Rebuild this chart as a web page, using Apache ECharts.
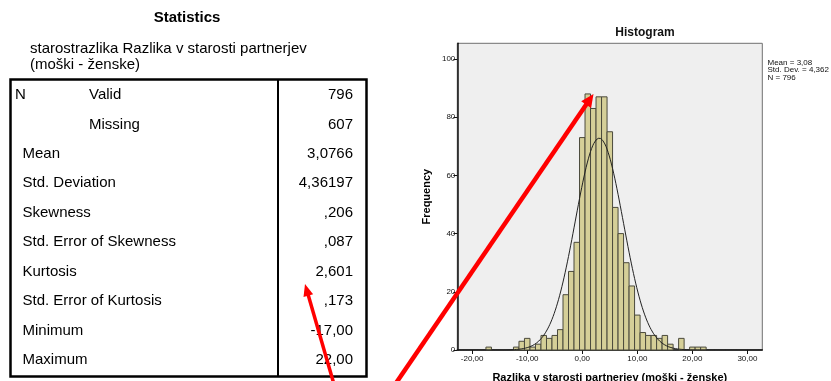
<!DOCTYPE html>
<html>
<head>
<meta charset="utf-8">
<script src="https://cdn.jsdelivr.net/npm/echarts@6/dist/echarts.min.js"></script>
<style>
  html, body { margin: 0; padding: 0; background: #fff; }
  #chart { width: 831px; height: 381px; }
</style>
</head>
<body>
<div id="chart"></div>
<script>
// ---- Descriptive statistics table ----
const tableTitle = 'Statistics';
const variableLabel = ['starostrazlika Razlika v starosti partnerjev', '(moški - ženske)'];
const statGroups = ['N', '', '', '', '', '', '', '', '', ''];
const statLabels = ['Valid', 'Missing', 'Mean', 'Std. Deviation', 'Skewness',
  'Std. Error of Skewness', 'Kurtosis', 'Std. Error of Kurtosis', 'Minimum', 'Maximum'];
const statValues = ['796', '607', '3,0766', '4,36197', ',206', ',087', '2,601', ',173', '-17,00', '22,00'];

// ---- Histogram: one-year bins centred on each integer age difference ----
const binCenters = [-17, -16, -15, -14, -13, -12, -11, -10, -9, -8, -7, -6, -5, -4, -3, -2, -1,
  0, 1, 2, 3, 4, 5, 6, 7, 8, 9, 10, 11, 12, 13, 14, 15, 16, 17, 18, 19, 20, 21, 22];
const binCounts = [1, 0, 0, 0, 0, 1, 3, 4, 1, 2, 5, 4, 5, 7, 19, 27, 37,
  73, 88, 83, 87, 87, 75, 49, 40, 30, 22, 12, 6, 5, 5, 4, 5, 2, 0, 4, 0, 1, 1, 1];
const xTicks = [-20, -10, 0, 10, 20, 30];
const yTicks = [0, 20, 40, 60, 80, 100];

// Parameters of the fitted normal curve, as printed beside the plot
const fitMean = [3.0766];
const fitSd = [4.36197];
const fitN = [796];
const legendLines = ['Mean = 3,08', 'Std. Dev. = 4,362', 'N = 796'];

const FONT = '"Liberation Sans", Arial, sans-serif';
const X_MIN = -22.7, X_MAX = 32.7, Y_MAX = 105.4;

// normal density scaled to counts per one-unit bin
function normalCurve() {
  const pts = [];
  const m = fitMean[0], s = fitSd[0], n = fitN[0];
  for (let x = X_MIN; x <= X_MAX + 1e-9; x += 0.2) {
    const z = (x - m) / s;
    pts.push([x, n / (s * Math.sqrt(2 * Math.PI)) * Math.exp(-0.5 * z * z)]);
  }
  return pts;
}

const fmtX = v => v.toFixed(2).replace('.', ',');

// ---- table drawn with graphic elements ----
const graphics = [];
graphics.push({
  type: 'text', x: 187, y: 18, z: 50,
  style: { text: tableTitle, font: 'bold 15px ' + FONT, fill: '#000', align: 'center', verticalAlign: 'middle' }
});
variableLabel.forEach((t, i) => {
  graphics.push({
    type: 'text', x: 30, y: 49 + i * 16, z: 50,
    style: { text: t, font: '15px ' + FONT, fill: '#000', align: 'left', verticalAlign: 'middle' }
  });
});
graphics.push({
  type: 'rect', z: 50,
  shape: { x: 10.5, y: 79.5, width: 356, height: 297 },
  style: { fill: 'none', stroke: '#000', lineWidth: 2.5 }
});
graphics.push({
  type: 'line', z: 50,
  shape: { x1: 278, y1: 79.5, x2: 278, y2: 376.5 },
  style: { stroke: '#000', lineWidth: 2 }
});
statLabels.forEach((lab, i) => {
  const y = 95 + i * 29.44;
  if (statGroups[i]) {
    graphics.push({
      type: 'text', x: 15, y, z: 50,
      style: { text: statGroups[i], font: '15px ' + FONT, fill: '#000', align: 'left', verticalAlign: 'middle' }
    });
  }
  graphics.push({
    type: 'text', x: i < 2 ? 89 : 22.5, y, z: 50,
    style: { text: lab, font: '15px ' + FONT, fill: '#000', align: 'left', verticalAlign: 'middle' }
  });
  graphics.push({
    type: 'text', x: 353, y, z: 50,
    style: { text: statValues[i], font: '15px ' + FONT, fill: '#000', align: 'right', verticalAlign: 'middle' }
  });
});

// ---- histogram title and fit summary ----
graphics.push({
  type: 'text', x: 645, y: 33, z: 50,
  style: { text: 'Histogram', font: 'bold 12px ' + FONT, fill: '#111', align: 'center', verticalAlign: 'middle' }
});
legendLines.forEach((t, i) => {
  graphics.push({
    type: 'text', x: 767.5, y: 62.5 + i * 7.5, z: 50,
    style: { text: t, font: '8px ' + FONT, fill: '#111', align: 'left', verticalAlign: 'middle' }
  });
});

// ---- red annotation arrows ----
function arrow(x0, y0, tx, ty, width, headLen, headHalf) {
  const dx = tx - x0, dy = ty - y0, L = Math.hypot(dx, dy);
  const ux = dx / L, uy = dy / L;
  const bx = tx - ux * headLen, by = ty - uy * headLen;
  const px = -uy * headHalf, py = ux * headHalf;
  graphics.push({
    type: 'line', z: 200,
    shape: { x1: x0, y1: y0, x2: bx + ux * 2, y2: by + uy * 2 },
    style: { stroke: '#ff0000', lineWidth: width, lineCap: 'butt' }
  });
  graphics.push({
    type: 'polygon', z: 201,
    shape: { points: [[tx, ty], [bx + px, by + py], [bx - px, by - py]] },
    style: { fill: '#ff0000' }
  });
}
arrow(334.5, 386, 305, 284, 3.5, 12, 5);
arrow(394, 386, 593.5, 94, 4.5, 13, 6);

const chart = echarts.init(document.getElementById('chart'), null, { renderer: 'canvas' });
chart.setOption({
  animation: false,
  backgroundColor: '#ffffff',
  textStyle: { fontFamily: FONT },
  grid: {
    left: 457.3, top: 43.3, width: 305, height: 306.7,
    containLabel: false, outerBoundsMode: 'none',
    show: true, backgroundColor: '#efefef', borderColor: '#707070', borderWidth: 1
  },
  xAxis: {
    type: 'value', min: X_MIN, max: X_MAX,
    name: 'Razlika v starosti partnerjev (moški - ženske)',
    nameLocation: 'middle', nameGap: 22,
    nameTextStyle: { fontFamily: FONT, fontWeight: 'bold', fontSize: 11, color: '#000' },
    axisLine: { show: true, onZero: false, lineStyle: { color: '#111', width: 1.5 } },
    axisTick: { show: true, customValues: xTicks, length: 4, lineStyle: { color: '#111' } },
    axisLabel: { customValues: xTicks, formatter: fmtX, fontSize: 8, color: '#111', margin: 5, fontFamily: FONT },
    splitLine: { show: false }
  },
  yAxis: {
    type: 'value', min: 0, max: Y_MAX,
    name: 'Frequency', nameLocation: 'middle', nameGap: 25, nameRotate: 90,
    nameTextStyle: { fontFamily: FONT, fontWeight: 'bold', fontSize: 11, color: '#000' },
    axisLine: { show: true, onZero: false, lineStyle: { color: '#111', width: 1.5 } },
    axisTick: { show: true, customValues: yTicks, length: 4, lineStyle: { color: '#111' } },
    axisLabel: { customValues: yTicks, fontSize: 8, color: '#111', margin: 2, fontFamily: FONT },
    splitLine: { show: false }
  },
  series: [
    {
      type: 'custom',
      data: binCenters.map((c, i) => [c, binCounts[i]]),
      encode: { x: 0, y: 1 },
      renderItem: function (params, api) {
        const c = api.value(0), n = api.value(1);
        if (!n) return null;
        const p0 = api.coord([c - 0.5, n]);
        const p1 = api.coord([c + 0.5, 0]);
        return {
          type: 'rect',
          shape: { x: p0[0], y: p0[1], width: p1[0] - p0[0], height: p1[1] - p0[1] },
          style: { fill: '#d5cf98', stroke: '#4b4a3c', lineWidth: 1 }
        };
      },
      z: 2
    },
    {
      type: 'line',
      data: normalCurve(),
      showSymbol: false,
      smooth: false,
      lineStyle: { color: '#222', width: 1 },
      z: 3
    }
  ],
  graphic: graphics
});
</script>
</body>
</html>
